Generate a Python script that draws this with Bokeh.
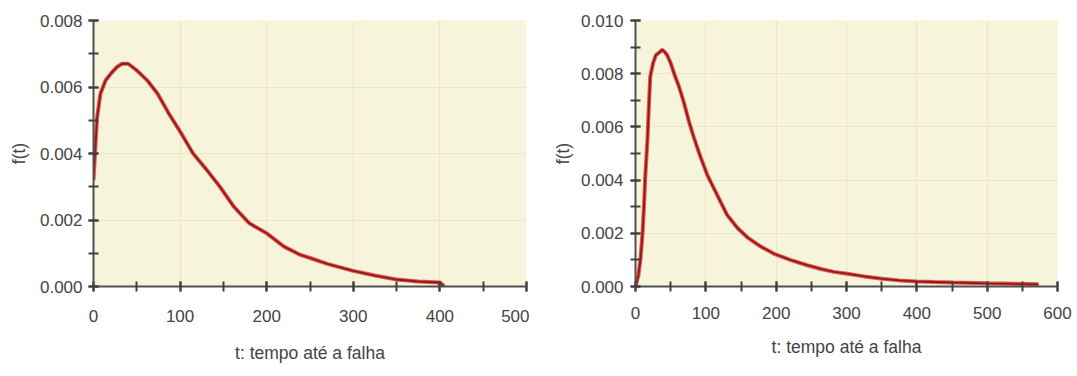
from bokeh.plotting import figure
from bokeh.layouts import row
from bokeh.models import Spacer, NumeralTickFormatter, FixedTicker, Range1d
from bokeh.embed import file_html
from bokeh.resources import INLINE

# ---- data ----
t_left = [0, 4, 8, 14, 20, 27, 33, 40, 50, 62, 74, 87, 100, 115, 131, 146, 162, 180, 200,
          220, 239, 251, 270, 300, 325, 350, 375, 400, 405]
f_left = [0.0032, 0.00505, 0.0058, 0.0062, 0.0064, 0.0066, 0.0067, 0.0067, 0.0065, 0.0062,
          0.0058, 0.0052, 0.00466, 0.0040, 0.0035, 0.0030, 0.0024, 0.0019, 0.0016,
          0.0012, 0.00095, 0.00085, 0.00068, 0.00047, 0.00033, 0.00021, 0.00015, 0.00012, 0.0]

t_right = [0, 4, 7, 10, 12, 14, 17, 19, 21, 25, 29, 34, 38, 42, 45, 50, 55, 62, 69, 76, 83,
           92, 102, 115, 130, 145, 159, 178, 197, 220, 244, 265, 282, 301, 325, 351, 375,
           400, 425, 452, 500, 540, 573]
f_right = [0.0, 0.0004, 0.0010, 0.0020, 0.0030, 0.0042, 0.0055, 0.0068, 0.0079, 0.0084,
           0.0087, 0.0088, 0.0089, 0.0088, 0.0087, 0.0084, 0.0080, 0.0075, 0.0069, 0.0062,
           0.0056, 0.0049, 0.0042, 0.0035, 0.0027, 0.0022, 0.00185, 0.0015, 0.00123, 0.0010,
           0.00080, 0.00065, 0.00055, 0.00048, 0.00038, 0.00029, 0.00023, 0.00019, 0.00017,
           0.00015, 0.00012, 0.00010, 0.00008]

x_label = "t: tempo até a falha"
y_label = "f(t)"

FONT = "Liberation Sans"
TXT = "#444444"


def make(t, f, xmax, ymax, width, height, bl, br, bt, bb,
         xstand, ystand, xlstand, ylstand):
    p = figure(width=width, height=height, output_backend="svg", toolbar_location=None,
               x_range=Range1d(0, xmax), y_range=Range1d(0, ymax),
               min_border_left=bl, min_border_right=br, min_border_top=bt,
               min_border_bottom=bb)
    p.background_fill_color = "#f7f4dc"
    p.border_fill_color = "white"
    p.outline_line_color = None
    p.xgrid.grid_line_color = "#ece5c8"
    p.ygrid.grid_line_color = "#ece5c8"
    p.xaxis.ticker = FixedTicker(ticks=list(range(0, xmax + 1, 100)),
                                 minor_ticks=list(range(0, xmax + 1, 50)))
    n = int(round(ymax / 0.002))
    p.yaxis.ticker = FixedTicker(ticks=[i * 0.002 for i in range(n + 1)],
                                 minor_ticks=[i * 0.001 for i in range(2 * n + 1)])
    p.yaxis.formatter = NumeralTickFormatter(format="0.000")
    for ax in (p.xaxis[0], p.yaxis[0]):
        ax.axis_line_color = "#505050"
        ax.axis_line_width = 2
        ax.major_tick_line_color = "#404040"
        ax.minor_tick_line_color = "#404040"
        ax.major_tick_line_width = 2
        ax.minor_tick_line_width = 2
        ax.major_tick_in = 5
        ax.major_tick_out = 5
        ax.minor_tick_in = 5
        ax.minor_tick_out = 5
        ax.major_label_text_font = FONT
        ax.major_label_text_font_size = "17px"
        ax.major_label_text_color = TXT
        ax.axis_label_text_font = FONT
        ax.axis_label_text_font_size = "17.5px"
        ax.axis_label_text_font_style = "normal"
        ax.axis_label_text_color = TXT
    p.xaxis.axis_label = x_label
    p.yaxis.axis_label = y_label
    p.xaxis.major_label_standoff = xstand
    p.yaxis.major_label_standoff = ystand
    p.xaxis.axis_label_standoff = xlstand
    p.yaxis.axis_label_standoff = ylstand
    p.line(t, f, line_color="#d8302c", line_width=4, line_alpha=0.8)
    p.line(t, f, line_color="#8e1a1a", line_width=1.8)
    return p


p1 = make(t_left, f_left, 500, 0.008, 529, 376, 93, 3, 16, 87, 18, 6, 18, 8)
p2 = make(t_right, f_right, 600, 0.010, 529, 376, 87, 20, 20, 90, 15, 7, 15, 5)

layout = row(p1, Spacer(width=19, height=376), p2)

open("out.html", "w").write(file_html(layout, INLINE))
